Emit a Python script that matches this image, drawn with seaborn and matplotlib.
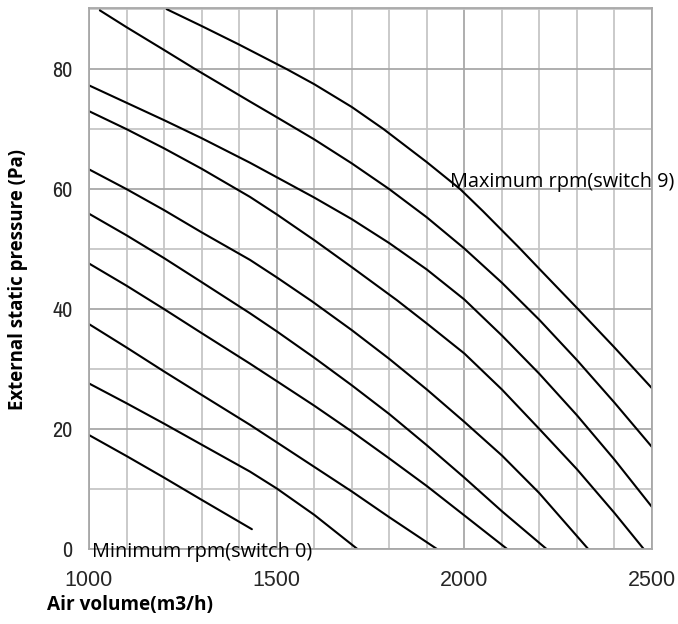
import matplotlib
matplotlib.use("Agg")
import matplotlib.pyplot as plt
from matplotlib import font_manager
import seaborn as sns
import pandas as pd
from matplotlib.ticker import MultipleLocator, FixedLocator

# ---- data ----
s0_x = [1000, 1100, 1200, 1300, 1434]
s0_y = [19.0, 15.5, 11.9, 8.2, 3.3]
s1_x = [1000, 1100, 1200, 1300, 1429, 1500, 1600, 1715]
s1_y = [27.6, 24.3, 20.9, 17.4, 12.9, 10.1, 5.7, 0.0]
s2_x = [1000, 1100, 1200, 1300, 1429, 1500, 1600, 1700, 1800, 1927]
s2_y = [37.5, 33.6, 29.6, 25.7, 20.7, 17.8, 13.7, 9.6, 5.3, 0.0]
s3_x = [1000, 1100, 1200, 1300, 1429, 1500, 1600, 1700, 1800, 1900, 2000, 2114]
s3_y = [47.6, 43.9, 40.0, 36.0, 30.9, 28.0, 23.9, 19.6, 15.1, 10.5, 5.6, 0.0]
s4_x = [1000, 1100, 1200, 1300, 1429, 1500, 1600, 1700, 1800, 1900, 2000, 2100, 2219]
s4_y = [55.9, 52.3, 48.5, 44.5, 39.3, 36.3, 31.9, 27.3, 22.5, 17.3, 11.9, 6.3, 0.0]
s5_x = [1000, 1100, 1200, 1300, 1429, 1500, 1594, 1700, 1800, 1900, 2000, 2100, 2200, 2330]
s5_y = [63.3, 60.0, 56.5, 52.8, 48.2, 45.3, 41.3, 36.5, 31.7, 26.6, 21.2, 15.6, 9.3, 0.0]
s6_x = [1000, 1100, 1200, 1300, 1429, 1500, 1600, 1700, 1820, 1900, 2000, 2100, 2200, 2300, 2400, 2478]
s6_y = [73.0, 70.0, 66.8, 63.4, 58.7, 55.8, 51.5, 47.0, 41.5, 37.6, 32.6, 26.6, 20.0, 13.3, 6.0, 0.0]
s7_x = [1000, 1100, 1200, 1300, 1429, 1600, 1700, 1800, 1900, 2000, 2100, 2200, 2300, 2400, 2500]
s7_y = [77.3, 74.4, 71.5, 68.5, 64.4, 58.6, 55.0, 51.0, 46.6, 41.6, 35.6, 29.2, 22.3, 14.9, 7.0]
s8_x = [1029, 1100, 1200, 1278, 1429, 1500, 1600, 1700, 1800, 1900, 2000, 2100, 2200, 2300, 2400, 2500]
s8_y = [89.8, 87.0, 83.2, 80.2, 74.6, 72.0, 68.3, 64.3, 60.0, 55.3, 50.1, 44.4, 38.2, 31.5, 24.4, 17.0]
s9_x = [1207, 1300, 1400, 1527, 1600, 1700, 1785, 1900, 1989, 2050, 2145, 2200, 2303, 2400, 2500]
s9_y = [90.0, 87.2, 84.1, 80.0, 77.5, 73.7, 70.0, 64.5, 60.0, 56.3, 50.3, 46.7, 40.0, 33.6, 26.8]

series_x = [s0_x, s1_x, s2_x, s3_x, s4_x, s5_x, s6_x, s7_x, s8_x, s9_x]
series_y = [s0_y, s1_y, s2_y, s3_y, s4_y, s5_y, s6_y, s7_y, s8_y, s9_y]

x_ticks = [1000, 1500, 2000, 2500]
y_ticks = [0, 20, 40, 60, 80]
x_label = "Air volume(m3/h)"
y_label = "External static pressure (Pa)"
max_label = "Maximum rpm(switch 9)"
min_label = "Minimum rpm(switch 0)"

rows = []
for i, (xs, ys) in enumerate(zip(series_x, series_y)):
    for xv, yv in zip(xs, ys):
        rows.append({"switch": f"s{i}", "air": xv, "pressure": yv})
df = pd.DataFrame(rows)

sns.set_theme(style="white")
plt.rcParams["font.family"] = ["Open Sans", "DejaVu Sans"]

# look for a narrow/condensed face for the y tick labels
narrow_family = None
narrow_stretch = "normal"
for f in font_manager.fontManager.ttflist:
    if "Narrow" in f.name and f.weight in (400, "normal", "regular"):
        narrow_family = f.name
        break
if narrow_family is None:
    for f in font_manager.fontManager.ttflist:
        st = f.stretch
        if isinstance(st, str) and "condensed" in st and f.style == "normal" \
                and f.weight in (400, "normal", "regular"):
            narrow_family = f.name
            narrow_stretch = st
            break

fig = plt.figure(figsize=(6.78, 6.24), dpi=100)
ax = fig.add_axes([89 / 678, 1 - 549 / 624, (652 - 89) / 678, (549 - 8) / 624])

ax.set_xlim(1000, 2500)
ax.set_ylim(0, 90.2)
ax.xaxis.set_major_locator(FixedLocator(x_ticks))
ax.yaxis.set_major_locator(FixedLocator(y_ticks))
ax.xaxis.set_minor_locator(MultipleLocator(100))
ax.yaxis.set_minor_locator(MultipleLocator(10))
ax.grid(which="minor", color="#c6c6c6", linewidth=1.3)
ax.grid(which="major", color="#a8a8a8", linewidth=1.3)
ax.set_axisbelow(True)
for side, sp in ax.spines.items():
    sp.set_visible(True)
    sp.set_color("#a8a8a8")
    sp.set_linewidth(1.3)

sns.lineplot(data=df, x="air", y="pressure", hue="switch",
             palette=["black"] * 10, legend=False, sort=False,
             estimator=None, linewidth=1.5, ax=ax)

ax.set_xticks(x_ticks)
ax.set_xticklabels([str(v) for v in x_ticks],
                   fontfamily=["Liberation Sans", "DejaVu Sans"], fontsize=15.5)
ax.set_yticks(y_ticks)
if narrow_family is not None:
    ax.set_yticklabels([str(v) for v in y_ticks],
                       fontfamily=[narrow_family, "DejaVu Sans"],
                       fontstretch=narrow_stretch, fontsize=16)
else:
    ax.set_yticklabels([str(v) for v in y_ticks],
                       fontfamily=["Liberation Sans", "DejaVu Sans"], fontsize=13)
ax.tick_params(axis="both", which="both", length=0)
ax.tick_params(axis="x", pad=15)
ax.tick_params(axis="y", pad=12)

ax.set_xlabel("")
ax.set_ylabel("")
fig.text(47 / 678, 1 - 605 / 624, x_label, fontsize=13.7, fontweight="bold",
         ha="left", va="center", color="black")
fig.text(18 / 678, 1 - 280 / 624, y_label, fontsize=13.4, fontweight="bold",
         rotation=90, ha="center", va="center", color="black")

ax.text(1962, 61.2, max_label, fontsize=14.3, ha="left", va="center",
        color="black", clip_on=False)
ax.text(1008, -0.5, min_label, fontsize=14.3, ha="left", va="center",
        color="black", clip_on=False)

fig.savefig("out.png", dpi=100)
